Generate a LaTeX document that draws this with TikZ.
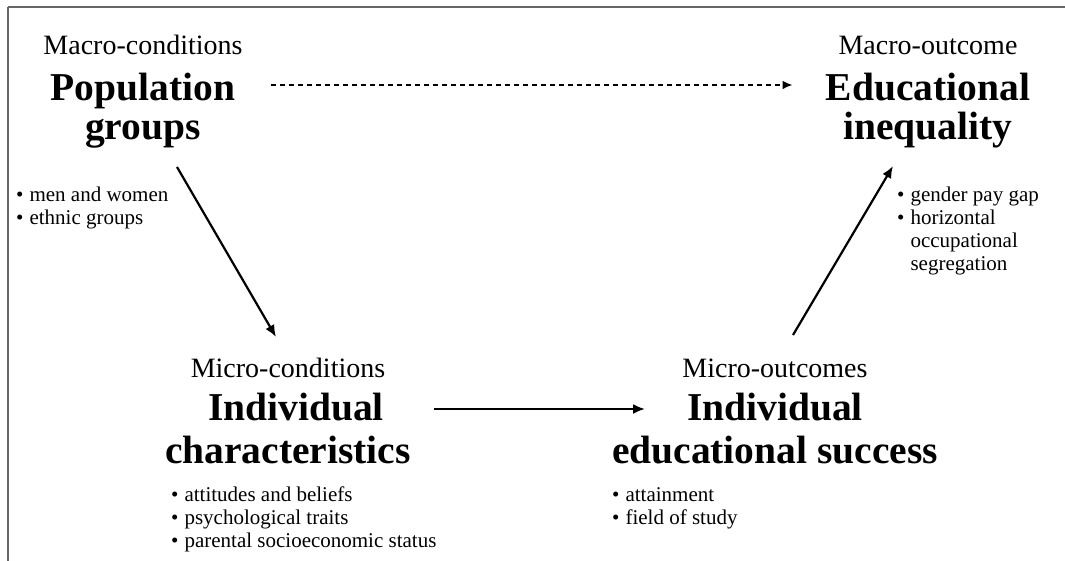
\documentclass[tikz,border=0pt]{standalone}
\usepackage{fontspec}
\setmainfont{Liberation Serif}
\usetikzlibrary{arrows.meta}

\tikzset{
  sub/.style={anchor=base, inner sep=0pt, font=\fontsize{28}{32}\selectfont},
  head/.style={anchor=base, inner sep=0pt, font=\fontsize{39.5}{44}\selectfont\bfseries},
  bul/.style={anchor=base west, inner sep=0pt, font=\fontsize{21}{23}\selectfont},
  link/.style={line width=2.2pt, -{Latex[length=12pt,width=10pt]}},
  dashlink/.style={line width=2pt, dash pattern=on 5pt off 4pt, -{Latex[length=10pt,width=8.5pt]}},
  frame/.style={line width=2pt, draw=black!60}
}
\newcommand{\bulletlist}[1]{\begin{tabular}[t]{@{}l@{\hspace{6pt}}l@{}}#1\end{tabular}}

\begin{document}
\begin{tikzpicture}[x=1pt, y=-1pt]
  \useasboundingbox (0,0) rectangle (1065,561);

  % frame lines along the top and left
  \draw[frame] (8,7) -- (1065,7);
  \draw[frame] (8,7) -- (8,561);

  % macro level, left
  \node[sub]  (macroc) at (143,55)  {Macro-conditions};
  \node[head] (pop)    at (143,101) {Population};
  \node[head] (grp)    at (143,140) {groups};
  \node[bul]  (popl)   at (16,202)  {\bulletlist{\textbullet & men and women\\ \textbullet & ethnic groups}};

  % macro level, right
  \node[sub]  (macroo) at (928,55)  {Macro-outcome};
  \node[head] (edu)    at (928,101) {Educational};
  \node[head] (ineq)   at (928,140) {inequality};
  \node[bul]  (ineql)  at (897,202) {\bulletlist{\textbullet & gender pay gap\\ \textbullet & horizontal\\ & occupational\\ & segregation}};

  % micro level, left
  \node[sub]  (microc) at (288,377) {Micro-conditions};
  \node[head] (indl)   at (296,420) {Individual};
  \node[head] (chars)  at (288,463) {characteristics};
  \node[bul]  (charl)  at (171,501) {\bulletlist{\textbullet & attitudes and beliefs\\ \textbullet & psychological traits\\ \textbullet & parental socioeconomic status}};

  % micro level, right
  \node[sub]  (microo) at (775,377) {Micro-outcomes};
  \node[head] (indr)   at (775,420) {Individual};
  \node[head] (succ)   at (775,463) {educational success};
  \node[bul]  (succl)  at (612,501) {\bulletlist{\textbullet & attainment\\ \textbullet & field of study}};

  % connectors
  \draw[dashlink] ([xshift=36pt,yshift=16pt]pop.base east) -- ([xshift=-33pt,yshift=16pt]edu.base west);
  \draw[link] ([xshift=34pt,yshift=-27pt]grp.base) -- ([xshift=-12pt,yshift=40pt]microc.base);
  \draw[link] ([xshift=138pt,yshift=11pt]indl.base) -- ([xshift=-130pt,yshift=11pt]indr.base);
  \draw[link] ([xshift=18pt,yshift=42pt]microo.base) -- ([xshift=-35pt,yshift=-26pt]ineq.base);
\end{tikzpicture}
\end{document}
